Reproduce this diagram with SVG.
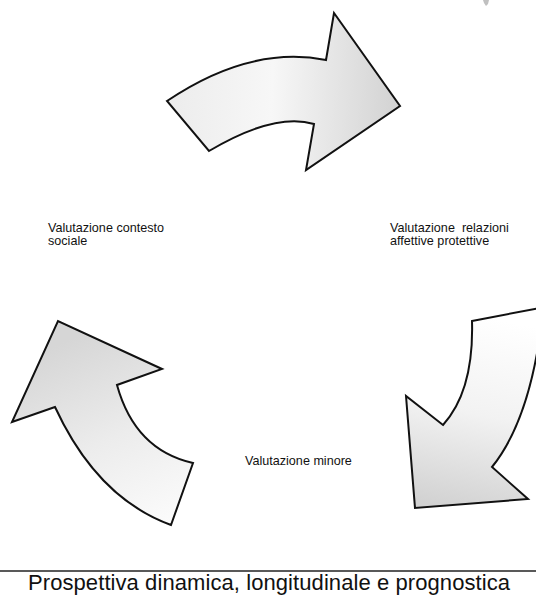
<svg xmlns="http://www.w3.org/2000/svg" width="536" height="608" viewBox="0 0 536 608">
  <style>
    .arrow { stroke: #111; stroke-width: 2; stroke-linejoin: miter; }
    .label { font-family: "Liberation Sans", Arial, sans-serif; font-size: 12.6px; fill: #111; }
    .title { font-family: "Liberation Sans", Arial, sans-serif; font-size: 22px; fill: #111; }
  </style>
  <defs>
    <linearGradient id="gTop" x1="167" y1="100" x2="400" y2="106" gradientUnits="userSpaceOnUse">
      <stop offset="0" stop-color="#ececec"/>
      <stop offset="0.45" stop-color="#f7f7f7"/>
      <stop offset="1" stop-color="#d2d2d2"/>
    </linearGradient>
    <linearGradient id="gLeft" x1="180" y1="525" x2="90" y2="330" gradientUnits="userSpaceOnUse">
      <stop offset="0" stop-color="#fcfcfc"/>
      <stop offset="0.5" stop-color="#ececec"/>
      <stop offset="1" stop-color="#d6d6d6"/>
    </linearGradient>
    <linearGradient id="gRight" x1="500" y1="320" x2="460" y2="510" gradientUnits="userSpaceOnUse">
      <stop offset="0" stop-color="#ffffff"/>
      <stop offset="0.5" stop-color="#f2f2f2"/>
      <stop offset="1" stop-color="#d2d2d2"/>
    </linearGradient>
  </defs>
  <rect width="536" height="608" fill="#ffffff"/>

  <g id="connectors">
    <path id="arrow-top" class="arrow" fill="url(#gTop)" d="M167,101 Q250,45 326,60 L334,13 L400,106 L306,170 L314,124 Q275,112 209,151 Z"/>
    <path id="arrow-right" class="arrow" fill="url(#gRight)" d="M472,321 L545,307 L542,320 Q530,420 492,467 L528,499 L415,508 L406,396 L443,425 Q474,391 472,321 Z"/>
    <path id="arrow-left" class="arrow" fill="url(#gLeft)" d="M55,407 L12,422 L58,321 L162,369 L117,385 Q135,450 193,463 L171,525 Q97,498 55,407 Z"/>
  </g>

  <polygon points="483,0 489,0 488,4 486,6 484,3" fill="#c0c0c0"/>

  <g id="node-contesto">
    <text class="label" x="48" y="232">Valutazione contesto</text>
    <text class="label" x="48" y="245">sociale</text>
  </g>
  <g id="node-relazioni">
    <text class="label" x="390" y="232" xml:space="preserve">Valutazione  relazioni</text>
    <text class="label" x="390" y="245">affettive protettive</text>
  </g>
  <g id="node-minore">
    <text class="label" x="245" y="465">Valutazione minore</text>
  </g>

  <g id="footer">
    <line x1="0" y1="571" x2="536" y2="571" stroke="#222" stroke-width="1.5"/>
    <text class="title" x="28" y="590" textLength="482" lengthAdjust="spacing">Prospettiva dinamica, longitudinale e prognostica</text>
  </g>
</svg>
